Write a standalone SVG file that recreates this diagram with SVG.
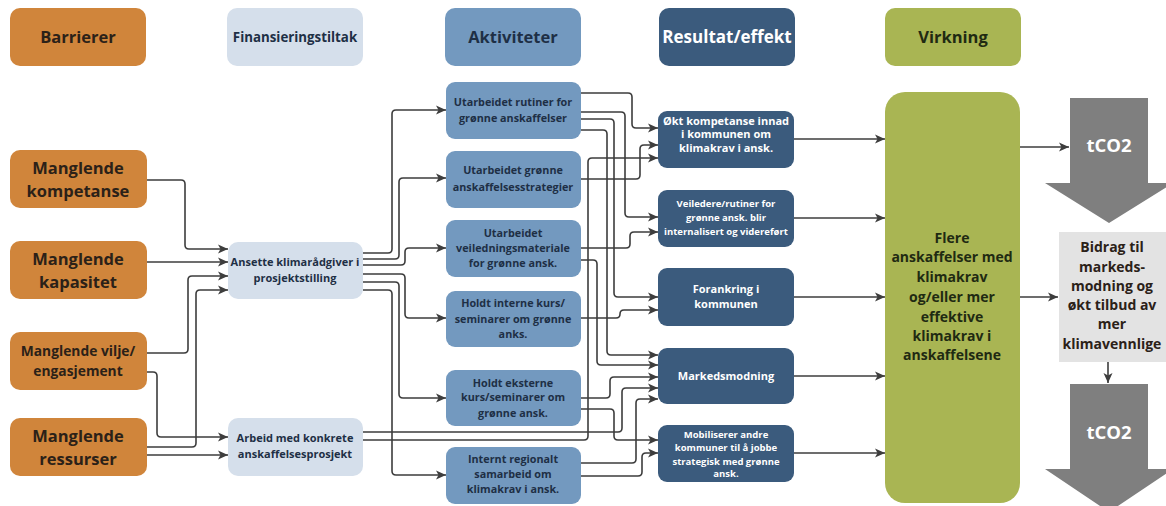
<svg xmlns="http://www.w3.org/2000/svg" width="1166" height="506" viewBox="0 0 1166 506">
<defs>
<marker id="ah" markerWidth="10" markerHeight="10" refX="10" refY="5" orient="auto" markerUnits="userSpaceOnUse">
<path d="M0,0.5 L10,5 L0,9.5 L2.5,5 Z" fill="#3d3d3d"/>
</marker>
<style>
text{font-family:"Open Sans","Noto Sans","Liberation Sans",sans-serif;font-weight:700;text-anchor:middle}
.or{fill:#d0853b}
.lb{fill:#d5dfeb}
.ak{fill:#7399bf}
.rs{fill:#3b5b7d}
.gr{fill:#a9b553}
.tb{fill:#2b2118}
.tn{fill:#1e2f45}
.tw{fill:#ffffff}
.tg{fill:#1f2a12}
.hd{font-size:16.5px}
.bt{font-size:16.5px}
.at{font-size:10.8px}
.rt{font-size:11px}
.rsm{font-size:9.5px}
.ft{font-size:11px}
.vt{font-size:14px}
.conn path{fill:none;stroke:#3d3d3d;stroke-width:1.6;marker-end:url(#ah)}
</style>
</defs>
<rect width="1166" height="506" fill="#ffffff"/>

<!-- headers -->
<g id="h-barrierer"><rect x="10" y="8" width="136" height="58" rx="10" class="or"/><text x="78" y="43" class="hd tb">Barrierer</text></g>
<g id="h-finans"><rect x="227" y="8" width="136" height="58" rx="10" class="lb"/><text x="295" y="42" font-size="13.3" class="tn">Finansieringstiltak</text></g>
<g id="h-aktiviteter"><rect x="445" y="8" width="136" height="58" rx="10" class="ak"/><text x="513" y="43" class="hd tn">Aktiviteter</text></g>
<g id="h-resultat"><rect x="659" y="8" width="136" height="58" rx="10" class="rs"/><text x="727" y="43" font-size="17" class="tw">Resultat/effekt</text></g>
<g id="h-virkning"><rect x="885" y="8" width="136" height="58" rx="10" class="gr"/><text x="953" y="43" class="hd tg">Virkning</text></g>

<!-- barriers -->
<g id="b-kompetanse"><rect x="10" y="150" width="137" height="58" rx="10" class="or"/><text x="78" y="174" class="bt tb">Manglende</text><text x="78" y="197" class="bt tb">kompetanse</text></g>
<g id="b-kapasitet"><rect x="10" y="241" width="137" height="58" rx="10" class="or"/><text x="78" y="265" class="bt tb">Manglende</text><text x="78" y="288" class="bt tb">kapasitet</text></g>
<g id="b-vilje"><rect x="10" y="332" width="137" height="58" rx="10" class="or"/><text x="78" y="356" font-size="13.8" class="tb">Manglende vilje/</text><text x="78" y="376" font-size="13.8" class="tb">engasjement</text></g>
<g id="b-ressurser"><rect x="10" y="418" width="137" height="58" rx="10" class="or"/><text x="78" y="442" class="bt tb">Manglende</text><text x="78" y="465" class="bt tb">ressurser</text></g>

<!-- financing -->
<g id="f-ansette"><rect x="228" y="242" width="135" height="57" rx="10" class="lb"/><text x="295" y="266" class="ft tn">Ansette klimarådgiver i</text><text x="295" y="282" class="ft tn">prosjektstilling</text></g>
<g id="f-arbeid"><rect x="228" y="418" width="135" height="58" rx="10" class="lb"/><text x="295" y="442" class="ft tn">Arbeid med konkrete</text><text x="295" y="458" class="ft tn">anskaffelsesprosjekt</text></g>

<!-- activities -->
<g id="a-rutiner"><rect x="446" y="82" width="135" height="57" rx="9" class="ak"/><text x="513" y="106" class="at tn">Utarbeidet rutiner for</text><text x="513" y="122" class="at tn">grønne anskaffelser</text></g>
<g id="a-strategier"><rect x="446" y="151" width="135" height="57" rx="9" class="ak"/><text x="513" y="174" class="at tn">Utarbeidet grønne</text><text x="513" y="191" class="at tn">anskaffelsesstrategier</text></g>
<g id="a-veiledning"><rect x="446" y="220" width="135" height="57" rx="9" class="ak"/><text x="513" y="237" class="at tn">Utarbeidet</text><text x="513" y="252" class="at tn">veiledningsmateriale</text><text x="513" y="267" class="at tn">for grønne ansk.</text></g>
<g id="a-interne"><rect x="446" y="291" width="135" height="56" rx="9" class="ak"/><text x="513" y="307" class="at tn">Holdt interne kurs/</text><text x="513" y="323" class="at tn">seminarer om grønne</text><text x="513" y="338" class="at tn">anks.</text></g>
<g id="a-eksterne"><rect x="446" y="370" width="135" height="56" rx="9" class="ak"/><text x="513" y="387" class="at tn">Holdt eksterne</text><text x="513" y="401" class="at tn">kurs/seminarer om</text><text x="513" y="417" class="at tn">grønne ansk.</text></g>
<g id="a-regionalt"><rect x="446" y="447" width="135" height="57" rx="9" class="ak"/><text x="513" y="463" class="at tn">Internt regionalt</text><text x="513" y="478" class="at tn">samarbeid om</text><text x="513" y="493" class="at tn">klimakrav i ansk.</text></g>

<!-- results -->
<g id="r-kompetanse"><rect x="658" y="111" width="136" height="57" rx="9" class="rs"/><text x="726" y="125" class="rt tw">Økt kompetanse innad</text><text x="726" y="138" class="rt tw">i kommunen om</text><text x="726" y="152" class="rt tw">klimakrav i ansk.</text></g>
<g id="r-veiledere"><rect x="658" y="190" width="136" height="57" rx="9" class="rs"/><text x="726" y="207" class="rsm tw">Veiledere/rutiner for</text><text x="726" y="221" class="rsm tw">grønne ansk. blir</text><text x="726" y="235" class="rsm tw">internalisert og videreført</text></g>
<g id="r-forankring"><rect x="658" y="268" width="136" height="58" rx="9" class="rs"/><text x="726" y="293" class="rt tw">Forankring i</text><text x="726" y="308" class="rt tw">kommunen</text></g>
<g id="r-marked"><rect x="658" y="348" width="136" height="56" rx="9" class="rs"/><text x="726" y="380" class="rt tw">Markedsmodning</text></g>
<g id="r-mobiliserer"><rect x="658" y="425" width="136" height="57" rx="9" class="rs"/><text x="726" y="438" class="rsm tw">Mobiliserer andre</text><text x="726" y="451" class="rsm tw">kommuner til å jobbe</text><text x="726" y="465" class="rsm tw">strategisk med grønne</text><text x="726" y="477" class="rsm tw">ansk.</text></g>

<!-- impact -->
<g id="v-flere"><rect x="885" y="92" width="135" height="411" rx="20" class="gr"/>
<text x="952" y="243" class="vt tg">Flere</text>
<text x="952" y="262" class="vt tg">anskaffelser med</text>
<text x="952" y="282" class="vt tg">klimakrav</text>
<text x="952" y="302" class="vt tg">og/eller mer</text>
<text x="952" y="322" class="vt tg">effektive</text>
<text x="952" y="341" class="vt tg">klimakrav i</text>
<text x="952" y="360" class="vt tg">anskaffelsene</text>
</g>

<g id="t-co2-1"><path d="M1070,98 H1148 V183 H1173 L1109,223 L1045,183 H1070 Z" fill="#7f7f7f"/><text x="1109" y="152" font-size="18.5" class="tw">tCO2</text></g>
<g id="bidrag"><rect x="1059" y="232" width="110" height="130" fill="#e3e3e3"/>
<text x="1112" y="252" class="vt tb">Bidrag til</text>
<text x="1112" y="272" class="vt tb">markeds-</text>
<text x="1112" y="291" class="vt tb">modning og</text>
<text x="1112" y="310" class="vt tb">økt tilbud av</text>
<text x="1112" y="329" class="vt tb">mer</text>
<text x="1112" y="349" class="vt tb">klimavennlige</text>
</g>
<g id="t-co2-2"><path d="M1070,384 H1148 V469 H1173 L1109,512 L1045,469 H1070 Z" fill="#7f7f7f"/><text x="1109" y="439" font-size="18.5" class="tw">tCO2</text></g>

<g id="connectors" class="conn">
<!-- barriers to financing -->
<path d="M147,180 H181 Q185,180 185,184 V245 Q185,249 189,249 H228"/>
<path d="M147,262 H228"/>
<path d="M147,353 H184 Q188,353 188,349 V280 Q188,276 192,276 H228"/>
<path d="M147,447 H192 Q196,447 196,443 V294 Q196,290 200,290 H228"/>
<path d="M147,372 H153 Q157,372 157,376 V433 Q157,437 161,437 H228"/>
<path d="M147,455 H228"/>
<!-- financing to activities -->
<path d="M363,253 H388 Q392,253 392,249 V114 Q392,110 396,110 H446"/>
<path d="M363,259 H395 Q399,259 399,255 V182 Q399,178 403,178 H446"/>
<path d="M363,265 H401 Q405,265 405,261 V252 Q405,248 409,248 H446"/>
<path d="M363,274 H401 Q405,274 405,278 V314 Q405,318 409,318 H446"/>
<path d="M363,282 H395 Q399,282 399,286 V394 Q399,398 403,398 H446"/>
<path d="M363,290 H388 Q392,290 392,294 V471 Q392,475 396,475 H446"/>
<!-- activities to results -->
<path d="M581,93 H628 Q632,93 632,97 V124 Q632,128 636,128 H658"/>
<path d="M581,112 H621 Q625,112 625,116 V213 Q625,217 629,217 H658"/>
<path d="M581,119 H610 Q614,119 614,123 V293 Q614,297 618,297 H658"/>
<path d="M581,130 H603 Q607,130 607,134 V351 Q607,355 611,355 H658"/>
<path d="M581,179 H636 Q640,179 640,175 V149 Q640,145 644,145 H658"/>
<path d="M581,248 H626 Q630,248 630,244 V236 Q630,232 634,232 H658"/>
<path d="M581,260 H593 Q597,260 597,264 V361 Q597,365 601,365 H658"/>
<path d="M581,318 H616 Q620,318 620,314 Q620,310 624,310 H658"/>
<path d="M581,398 H606 Q610,398 610,394 V381 Q610,377 614,377 H658"/>
<path d="M581,409 H610 Q614,409 614,413 V436 Q614,440 618,440 H658"/>
<path d="M363,432 H618 Q622,432 622,428 V392 Q622,388 626,388 H658"/>
<path d="M363,440 H584 Q588,440 588,436 V162 Q588,158 592,158 H658"/>
<path d="M581,463 H632 Q636,463 636,459 V403 Q636,399 640,399 H658"/>
<path d="M581,476 H638 Q642,476 642,472 V457 Q642,453 646,453 H658"/>
<!-- results to impact -->
<path d="M794,139 H885"/>
<path d="M794,218 H885"/>
<path d="M794,297 H885"/>
<path d="M794,376 H885"/>
<path d="M794,453 H885"/>
<!-- impact to effects -->
<path d="M1020,147 H1069"/>
<path d="M1020,297 H1058"/>
<path d="M1108,362 V383"/>
</g>
</svg>
